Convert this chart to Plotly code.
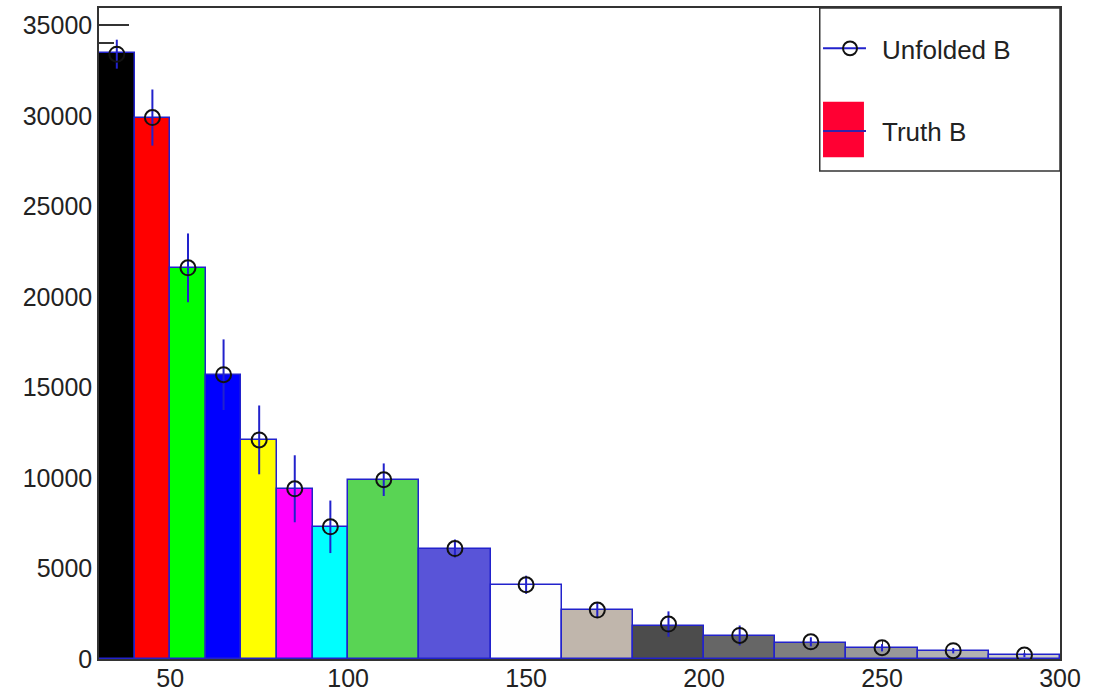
import plotly.graph_objects as go

# bin edges and data
bin_edges = [30, 40, 50, 60, 70, 80, 90, 100, 120, 140, 160, 180, 200, 220, 240, 260, 280, 300]
truth_vals = [33450, 29900, 21600, 15700, 12100, 9400, 7300, 9900, 6100, 4100, 2700, 1850, 1270, 900, 590, 460, 240]
unfolded_vals = [33400, 29900, 21600, 15700, 12100, 9400, 7300, 9900, 6100, 4100, 2700, 1930, 1300, 950, 620, 460, 220]
unfolded_errs = [800, 1550, 1900, 1950, 1900, 1850, 1450, 900, 500, 500, 400, 700, 550, 250, 200, 150, 120]
bar_colors = ["#000000", "#ff0000", "#00ff00", "#0000ff", "#ffff00", "#ff00ff", "#00ffff",
              "#59d454", "#5954d8", "#fefefe", "#c0b6ac", "#4c4c4c", "#666666", "#7f7f7f",
              "#999999", "#b2b2b2", "#cccccc"]
x_ticks = [50, 100, 150, 200, 250, 300]
y_ticks = [0, 5000, 10000, 15000, 20000, 25000, 30000, 35000]
y_tick_labels = ["0", "5000", "10000", "15000", "20000", "25000", "30000", "35000"]

centers = [(a + b) / 2 for a, b in zip(bin_edges[:-1], bin_edges[1:])]
widths = [b - a for a, b in zip(bin_edges[:-1], bin_edges[1:])]

OUTLINE = "#2222cc"
FONT = "Liberation Sans, Arial, sans-serif"

fig = go.Figure()
fig.add_trace(go.Bar(
    x=centers, y=truth_vals, width=widths,
    marker=dict(color=bar_colors, line=dict(color=OUTLINE, width=1.5)),
    showlegend=False, hoverinfo="skip"))
fig.add_trace(go.Scatter(
    x=centers, y=unfolded_vals, mode="markers",
    marker=dict(symbol="circle-open", size=15, color="#111111", line=dict(width=2)),
    error_y=dict(type="data", array=unfolded_errs, visible=True, color=OUTLINE, thickness=2, width=0),
    showlegend=False))

fig.update_layout(
    width=1099, height=692,
    margin=dict(l=99, r=39, t=8, b=33, autoexpand=False),
    paper_bgcolor="white", plot_bgcolor="white",
    font=dict(family=FONT, size=25, color="#222222"),
    bargap=0,
    xaxis=dict(range=[30, 300], tickvals=x_ticks, ticks="inside", ticklen=18, tickwidth=1,
               tickcolor="#333333", showgrid=False, zeroline=False, showline=True,
               linecolor="#333333", linewidth=1.5, mirror=True, layer="below traces",
               automargin=False, ticklabelstandoff=-4,
               minor=dict(dtick=10, ticks="inside", ticklen=9, tickcolor="#333333"),
               tickfont=dict(size=25, family=FONT, color="#222222")),
    yaxis=dict(range=[0, 35950], tickvals=y_ticks, ticktext=y_tick_labels, ticks="inside",
               ticklen=30, tickwidth=1.5,
               tickcolor="#333333", showgrid=False, zeroline=False, showline=True,
               linecolor="#333333", linewidth=1.5, mirror=True, layer="below traces",
               automargin=False,
               minor=dict(dtick=1000, ticks="inside", ticklen=15, tickcolor="#333333", tickwidth=1.5),
               tickfont=dict(size=25, family=FONT, color="#222222")),
)

# legend box (drawn manually, ROOT style)
shapes = [
    dict(type="rect", xref="paper", yref="paper", x0=0.75, x1=1.0, y0=0.7496, y1=1.0,
         line=dict(color="#333333", width=1.5), fillcolor="white", layer="above"),
    # entry 1: line with open circle
    dict(type="line", xref="paper", yref="paper", x0=0.7534, x1=0.7981, y0=0.938, y1=0.938,
         line=dict(color=OUTLINE, width=2), layer="above"),
    dict(type="circle", xref="paper", yref="paper", x0=0.7742, x1=0.7888, y0=0.9273, y1=0.9487,
         line=dict(color="#111111", width=2), fillcolor="rgba(0,0,0,0)", layer="above"),
    # entry 2: filled box with line
    dict(type="rect", xref="paper", yref="paper", x0=0.7534, x1=0.7960, y0=0.7707, y1=0.8561,
         line=dict(width=0), fillcolor="#ff0033", layer="above"),
    dict(type="line", xref="paper", yref="paper", x0=0.7534, x1=0.7981, y0=0.811, y1=0.811,
         line=dict(color="#3322aa", width=2), layer="above"),
]
fig.update_layout(shapes=shapes)
fig.add_annotation(xref="paper", yref="paper", x=0.8127, y=0.936, text="Unfolded B",
                   showarrow=False, xanchor="left", yanchor="middle",
                   font=dict(size=26, family=FONT, color="#222222"))
fig.add_annotation(xref="paper", yref="paper", x=0.8127, y=0.809, text="Truth B",
                   showarrow=False, xanchor="left", yanchor="middle",
                   font=dict(size=26, family=FONT, color="#222222"))

fig.write_html("out.html")
